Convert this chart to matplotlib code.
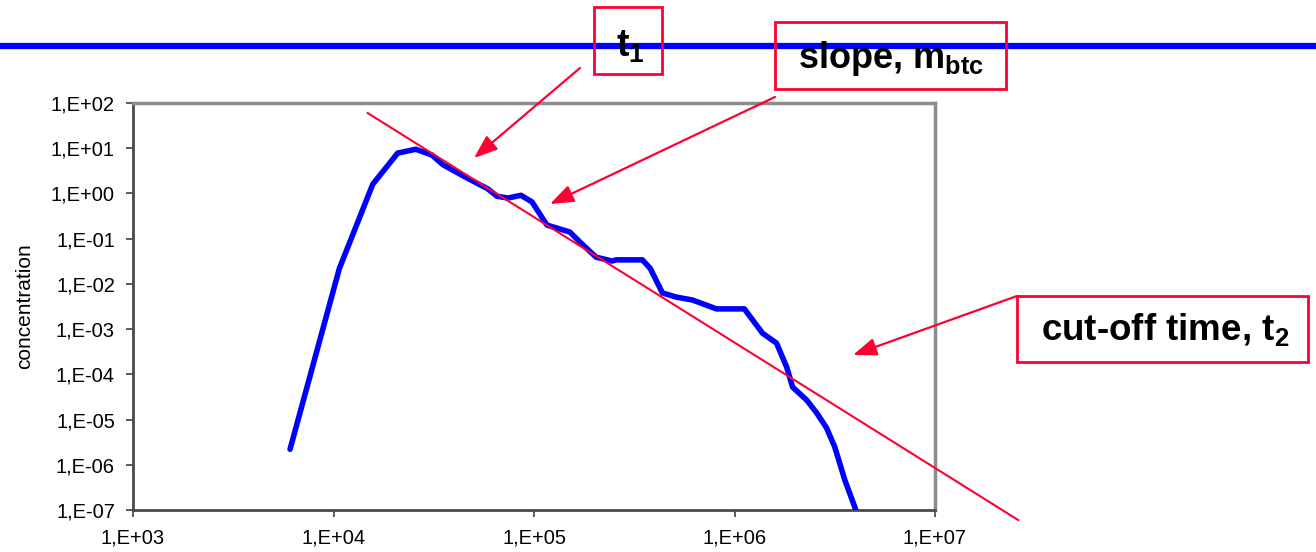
import numpy as np
import matplotlib
matplotlib.use('Agg')
import matplotlib.pyplot as plt
from matplotlib.ticker import FixedLocator, FuncFormatter, NullLocator
from matplotlib.lines import Line2D
from matplotlib.patches import Rectangle

plt.rcParams['font.family'] = ['Liberation Sans', 'DejaVu Sans']
plt.rcParams['mathtext.fontset'] = 'custom'
plt.rcParams['mathtext.rm'] = 'Liberation Sans:bold'
plt.rcParams['mathtext.it'] = 'Liberation Sans:bold'
plt.rcParams['mathtext.bf'] = 'Liberation Sans:bold'
plt.rcParams['mathtext.default'] = 'rm'

# breakthrough curve (time, concentration)
time = [6070, 10700, 15700, 20900, 25700, 30900, 35200, 46300, 58900, 65300,
        74100, 86100, 97700, 116000, 151000, 170000, 204000, 245000, 257000,
        347000, 380000, 437000, 513000, 617000, 813000, 1.12e6, 1.38e6, 1.62e6,
        1.82e6, 1.95e6, 2.29e6, 2.57e6, 2.88e6, 3.16e6, 3.55e6, 4.03e6]
conc = [2.2e-6, 0.022, 1.6, 7.8, 9.5, 7.1, 4.3, 2.2, 1.26, 0.87,
        0.79, 0.91, 0.65, 0.20, 0.14, 0.083, 0.039, 0.032, 0.034,
        0.034, 0.022, 0.0063, 0.0051, 0.0044, 0.0028, 0.0028, 8.1e-4, 4.9e-4,
        1.45e-4, 5.2e-5, 2.7e-5, 1.4e-5, 6.5e-6, 2.5e-6, 4.6e-7, 1e-7]

# fitted power-law tail (end points)
fit_time = [1.48e4, 2.6e7]
fit_conc = [60, 6.0e-8]

x_ticks = [1e3, 1e4, 1e5, 1e6, 1e7]
y_ticks = [1e-7, 1e-6, 1e-5, 1e-4, 1e-3, 1e-2, 1e-1, 1e0, 1e1, 1e2]

RED = '#ff0033'
W, H = 1316, 552


def fig_xy(px, py):
    return px / W, 1 - py / H


def sci_label(v, pos):
    return '1,E{:+03d}'.format(int(round(np.log10(v))))


fig = plt.figure(figsize=(W / 100, H / 100), dpi=100)
ax = fig.add_axes([133 / W, 42 / H, 802 / W, 407 / H])
ax.set_xscale('log')
ax.set_yscale('log')
ax.set_xlim(1e3, 1e7)
ax.set_ylim(1e-7, 1e2)

ax.plot(time, conc, color='#0000ff', lw=4, solid_capstyle='round',
        solid_joinstyle='round', zorder=3)
ax.plot(fit_time, fit_conc, color=RED, lw=1.5, clip_on=False, zorder=4)

ax.xaxis.set_major_locator(FixedLocator(x_ticks))
ax.yaxis.set_major_locator(FixedLocator(y_ticks))
ax.xaxis.set_minor_locator(NullLocator())
ax.yaxis.set_minor_locator(NullLocator())
ax.xaxis.set_major_formatter(FuncFormatter(sci_label))
ax.yaxis.set_major_formatter(FuncFormatter(sci_label))
ax.tick_params(direction='out', length=5, width=1.2, color='#404040',
               labelsize=14.5, pad=8)
ax.set_ylabel('concentration', fontsize=15, labelpad=12)

for side in ['left', 'bottom']:
    ax.spines[side].set_color('#4a4a4a')
    ax.spines[side].set_linewidth(2)
for side in ['top', 'right']:
    ax.spines[side].set_color('#8c8c8c')
    ax.spines[side].set_linewidth(2.5)

# blue rule across the top
x0, y0 = fig_xy(0, 46)
x1, _ = fig_xy(W, 46)
fig.add_artist(Line2D([x0, x1], [y0, y0], color='#0000ff', lw=4.5,
                      transform=fig.transFigure, zorder=1))

# annotation boxes: frame (left, top, right, bottom), text centre and baseline
boxes = [
    ((594, 7, 662, 74), (630, 57), 27, r't$_1$'),
    ((775, 22, 1006, 89), (891, 68), 26, r'slope, m$_{btc}$'),
    ((1017, 296, 1308, 362), (1165, 340), 26.5, r'cut-off time, t$_2$'),
]
for (left, top, right, bottom), (tx, ty), size, label in boxes:
    bx, by = fig_xy(left, bottom)
    bw, bh = (right - left) / W, (bottom - top) / H
    fig.add_artist(Rectangle((bx, by), bw, bh, transform=fig.transFigure,
                             fill=False, ec=RED, lw=2, zorder=5))
    cx, cy = fig_xy(tx, ty)
    fig.text(cx, cy, label, fontsize=size, fontweight='bold', ha='center',
             va='baseline', zorder=6)

# arrows pointing into the chart
arrows = [
    ((580, 68), (474, 158)),
    ((775, 97), (550, 204)),
    ((1017, 296), (853, 355)),
]
for (sx, sy), (tx, ty) in arrows:
    ax.annotate('', xy=fig_xy(tx, ty), xycoords='figure fraction',
                xytext=fig_xy(sx, sy), textcoords='figure fraction',
                annotation_clip=False, zorder=6,
                arrowprops=dict(arrowstyle='-|>,head_length=0.8,head_width=0.3',
                                mutation_scale=18, color=RED, lw=1.6,
                                shrinkA=0, shrinkB=0))

fig.savefig('out.png', dpi=100)
